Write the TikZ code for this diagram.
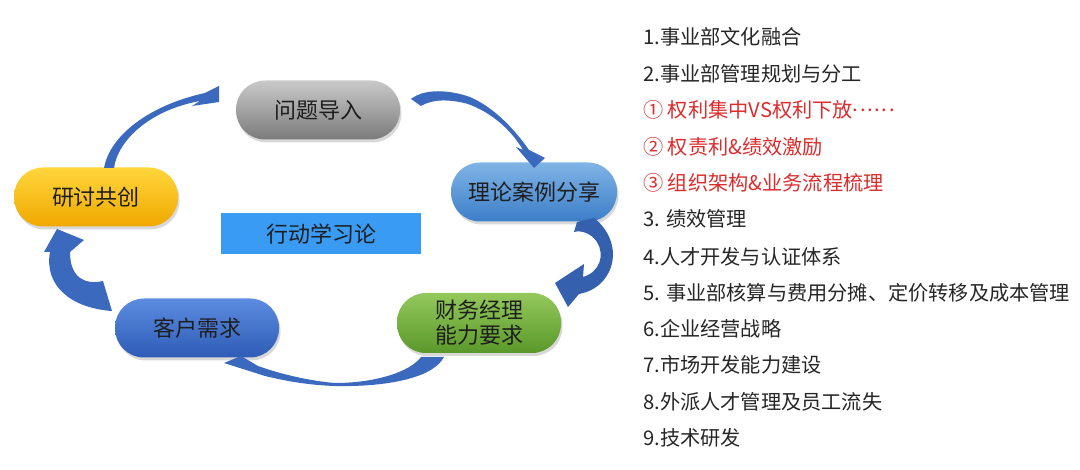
\documentclass[tikz,border=0pt]{standalone}
\usepackage{fontspec}
\setmainfont{Noto Sans CJK SC}
\usetikzlibrary{shadows}
\definecolor{nodetxt}{HTML}{1E1E1E}
\definecolor{listtxt}{HTML}{262626}
\definecolor{listred}{HTML}{DD2C2C}
\definecolor{arrowc}{HTML}{3A69BE}
\definecolor{arrowd}{HTML}{3460AE}
\definecolor{centerbox}{HTML}{3A9BF5}
\newcommand{\middots}{\raisebox{0.3em}{.\kern0.08em.\kern0.08em.\kern0.08em.\kern0.08em.\kern0.08em.}}
\begin{document}
\begin{tikzpicture}[x=1pt,y=-1pt,
  pill/.style={rounded corners=29pt, minimum width=164pt, minimum height=59pt,
    inner sep=0pt, font=\fontsize{22}{25}\selectfont, text=nodetxt, align=center,
    drop shadow={opacity=0.3, shadow xshift=1.5pt, shadow yshift=-3pt}},
  blockarrow/.style={fill=arrowc, draw=none},
  listitem/.style={anchor=west, inner sep=0pt, font=\fontsize{20.2}{22}\selectfont, text=listtxt},
  reditem/.style={listitem, text=listred}]
\useasboundingbox (0,0) rectangle (1080,470);
\fill[white] (0,0) rectangle (1080,470);

% nodes
\node[pill, top color=gray!42, bottom color=gray!85!black!90] (q) at (318,110) {问题导入};
\node[pill, minimum width=166pt, top color={rgb,255:red,128;green,180;blue,230}, bottom color={rgb,255:red,60;green,126;blue,200}] (l) at (534,192) {理论案例分享};
\node[pill, top color={rgb,255:red,255;green,214;blue,60}, bottom color={rgb,255:red,240;green,168;blue,0}] (y) at (96,197) {研讨共创};
\node[pill, top color={rgb,255:red,92;green,140;blue,224}, bottom color={rgb,255:red,46;green,92;blue,182}] (k) at (197,328) {客户需求};
\node[pill, minimum height=60pt, top color={rgb,255:red,148;green,200;blue,92}, bottom color={rgb,255:red,90;green,152;blue,42}] (c) at (479,323) {财务经理\\能力要求};
\node[fill=centerbox, minimum width=200pt, minimum height=41pt, inner sep=0pt,
  font=\fontsize{22}{25}\selectfont, text=nodetxt] (r) at (321,234) {行动学习论};

% curved block arrows
% 研讨共创 -> 问题导入
\path[blockarrow] (104,168) .. controls (110,135) and (150,105) .. (205,93)
  -- (219,86) -- (219,102) -- (192,106) -- (200,101)
  .. controls (150,110) and (118,140) .. (114,168) -- cycle;
% 问题导入 -> 理论案例分享
\path[blockarrow] (411,99) .. controls (425,88) and (450,90) .. (470,97)
  .. controls (495,108) and (515,130) .. (529,150)
  -- (545,158) -- (534,168) -- (516,147) -- (523,150)
  .. controls (510,128) and (490,112) .. (468,104)
  .. controls (450,99) and (432,99) .. (421,106) -- cycle;
% 理论案例分享 -> 财务经理能力要求
\path[blockarrow, fill=arrowd] (577,222) -- (594,218) .. controls (616,235) and (620,265) .. (600,284)
  .. controls (592,291) and (584,293) .. (579,294)
  -- (568,307) -- (555,283) -- (584,264) -- (583,277)
  .. controls (600,272) and (605,255) .. (597,242)
  .. controls (591,233) and (581,230) .. (574,232) -- cycle;
% 财务经理能力要求 -> 客户需求
\path[blockarrow] (421,357) -- (444,357) .. controls (432,380) and (380,387) .. (335,386)
  .. controls (305,385) and (282,380) .. (265,376)
  -- (224,363) -- (241,356) -- (258,366)
  .. controls (280,374) and (310,381) .. (335,383)
  .. controls (375,383) and (410,372) .. cycle;
% 客户需求 -> 研讨共创
\path[blockarrow] (112,311) -- (103,281) .. controls (85,285) and (70,278) .. (70,252)
  -- (84,240) -- (57,229) -- (44,252) -- (50,252)
  .. controls (44,285) and (70,308) .. cycle;

% list
\node[listitem] (t1) at (643,37) {1.事业部文化融合};
\node[listitem] (t2) at (643,74) {2.事业部管理规划与分工};
\node[reditem] (t3) at (643,110) {① 权利集中VS权利下放\middots};
\node[reditem] (t4) at (643,147) {② 权责利\&绩效激励};
\node[reditem] (t5) at (643,183) {③ 组织架构\&业务流程梳理};
\node[listitem] (t6) at (643,219) {3. 绩效管理};
\node[listitem] (t7) at (643,257) {4.人才开发与认证体系};
\node[listitem] (t8) at (643,293) {5. 事业部核算与费用分摊、定价转移及成本管理};
\node[listitem] (t9) at (643,329) {6.企业经营战略};
\node[listitem] (t10) at (643,365) {7.市场开发能力建设};
\node[listitem] (t11) at (643,402) {8.外派人才管理及员工流失};
\node[listitem] (t12) at (643,438) {9.技术研发};
\end{tikzpicture}
\end{document}
